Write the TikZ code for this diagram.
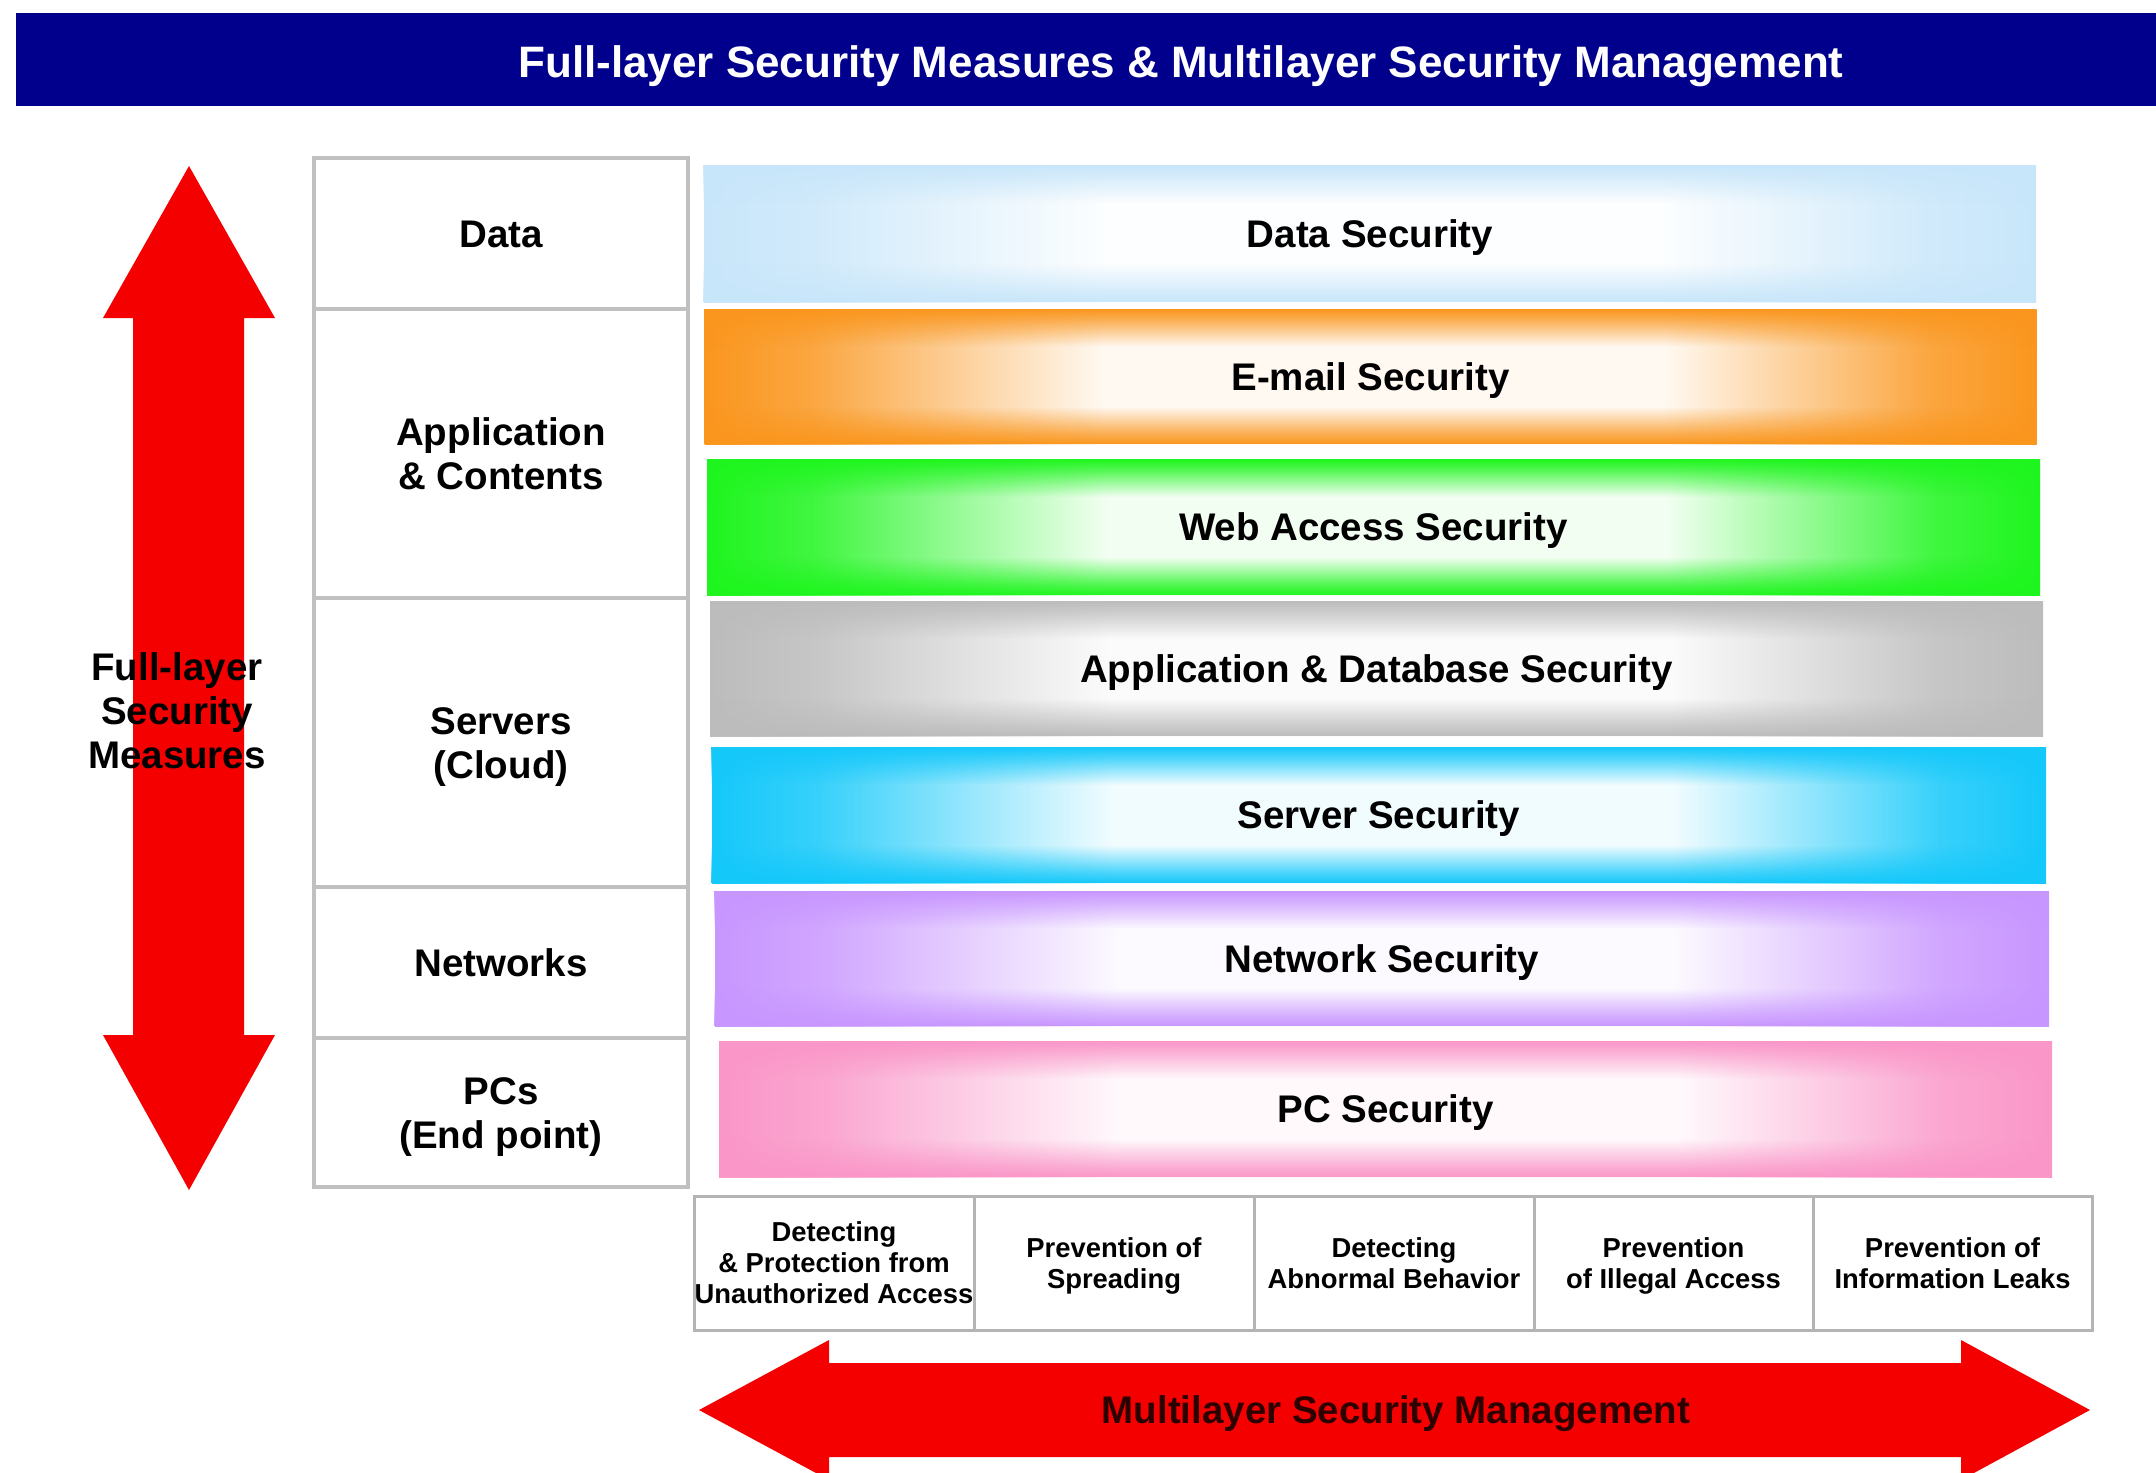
\documentclass[tikz,border=0pt]{standalone}
\usepackage{fontspec}
\setmainfont{Liberation Sans}
\usetikzlibrary{fadings}

\definecolor{titlenavy}{RGB}{0,0,140}
\definecolor{arrowred}{RGB}{245,0,0}
\definecolor{cellgray}{RGB}{192,192,192}
\definecolor{boxgray}{RGB}{180,180,180}
\definecolor{dataBlue}{RGB}{200,230,250}
\definecolor{mailOrange}{RGB}{250,150,30}
\definecolor{webGreen}{RGB}{30,245,30}
\definecolor{dbGray}{RGB}{188,188,188}
\definecolor{srvCyan}{RGB}{20,200,250}
\definecolor{netPurple}{RGB}{200,150,255}
\definecolor{pcPink}{RGB}{250,150,200}
\definecolor{mgmtText}{RGB}{45,0,0}
\colorlet{bandcol}{dataBlue}

% band fill: solid colour at the left and right ends, pale core in the middle
\pgfdeclarehorizontalshading[bandcol]{bandh}{100bp}{%
  color(0bp)=(bandcol); color(25bp)=(bandcol); color(29bp)=(bandcol!85!white);
  color(40bp)=(bandcol!6!white); color(61bp)=(bandcol!6!white);
  color(71bp)=(bandcol!85!white); color(75bp)=(bandcol); color(100bp)=(bandcol)}
% mask that keeps the band colour along the top and bottom edges only
\pgfdeclareverticalshading{bandvmask}{100bp}{%
  color(0bp)=(pgftransparent!0); color(25bp)=(pgftransparent!0);
  color(29bp)=(pgftransparent!25); color(39bp)=(pgftransparent!100);
  color(61bp)=(pgftransparent!100); color(71bp)=(pgftransparent!25);
  color(75bp)=(pgftransparent!0); color(100bp)=(pgftransparent!0)}
\pgfdeclarefading{bandv}{\pgfuseshading{bandvmask}}

\tikzset{
  bigfont/.style={font=\fontsize{38.5}{44}\selectfont\bfseries},
  smallfont/.style={font=\fontsize{27.4}{31}\selectfont\bfseries},
  % text boxes measured from cap top to last baseline, so the caps sit centred
  bigrows/.style={text height={27.6pt+(#1-1)*44pt}, text depth=0pt},
  smallrows/.style={text height={19.6pt+(#1-1)*31pt}, text depth=0pt},
  bandcolor/.code={\colorlet{bandcol}{#1}},
  band/.style={shade, shading=bandh, inner sep=0pt, bigfont, bigrows=1, text=black,
    postaction={fill=bandcol, path fading=bandv}},
  layercell/.style={draw=cellgray, line width=3.5pt, fill=white, inner sep=0pt,
    minimum width=374pt, align=center, bigfont},
  measurebox/.style={draw=boxgray, line width=3pt, fill=white, inner sep=0pt,
    minimum height=134pt, align=center, smallfont},
}

\begin{document}
\begin{tikzpicture}[x=1pt, y=-1pt]
\useasboundingbox (0,0) rectangle (2156,1473);
\fill[white] (0,0) rectangle (2156,1473);

% title bar
\fill[titlenavy] (16,13) rectangle (2156,106);
\node[font=\fontsize{44}{50}\selectfont\bfseries, text=white,
      text height=31.5pt, text depth=0pt] (title) at (1181,62)
  {Full-layer Security Measures \& Multilayer Security Management};

% vertical double arrow
\fill[arrowred] (189,166) -- (275,318) -- (244,318) -- (244,1035) -- (275,1035)
  -- (189,1190) -- (103,1035) -- (133,1035) -- (133,318) -- (103,318) -- cycle;
\node[bigfont, bigrows=3, align=center, text=black] (fullLayer) at (177,711)
  {Full-layer\\Security\\Measures};

% layer table
\node[layercell, bigrows=1, minimum height=151pt] (cData) at (501,233.5) {Data};
\node[layercell, bigrows=2, minimum height=289pt] (cApp) at (501,453.5) {Application\\\& Contents};
\node[layercell, bigrows=2, minimum height=289pt] (cSrv) at (501,742.5) {Servers\\(Cloud)};
\node[layercell, bigrows=1, minimum height=151pt] (cNet) at (501,962.5) {Networks};
\node[layercell, bigrows=2, minimum height=149pt] (cPC) at (501,1112.5) {PCs\\(End point)};

% security bands
\node[band, bandcolor=dataBlue, minimum width=1332pt, minimum height=137pt]
  (bData) at (1370,233.5) {Data Security};
\node[band, bandcolor=mailOrange, minimum width=1332pt, minimum height=135pt]
  (bMail) at (1370.5,376.5) {E-mail Security};
\node[band, bandcolor=webGreen, minimum width=1333pt, minimum height=136pt]
  (bWeb) at (1373.5,527) {Web Access Security};
\node[band, bandcolor=dbGray, minimum width=1333pt, minimum height=135pt]
  (bDb) at (1376.5,668.5) {Application \& Database Security};
\node[band, bandcolor=srvCyan, minimum width=1334pt, minimum height=136pt]
  (bSrv) at (1379,815) {Server Security};
\node[band, bandcolor=netPurple, minimum width=1334pt, minimum height=135pt]
  (bNet) at (1382,958.5) {Network Security};
\node[band, bandcolor=pcPink, minimum width=1333pt, minimum height=136pt]
  (bPC) at (1385.5,1109) {PC Security};

% management measures
\node[measurebox, smallrows=3, minimum width=280pt] (m1) at (834,1263)
  {Detecting\\\& Protection from\\Unauthorized Access};
\node[measurebox, smallrows=2, minimum width=280pt] (m2) at (1114,1263) {Prevention of\\Spreading};
\node[measurebox, smallrows=2, minimum width=280pt] (m3) at (1394,1263) {Detecting\\Abnormal Behavior};
\node[measurebox, smallrows=2, minimum width=279pt] (m4) at (1673.5,1263) {Prevention\\of Illegal Access};
\node[measurebox, smallrows=2, minimum width=279pt] (m5) at (1952.5,1263) {Prevention of\\Information Leaks};

% horizontal double arrow
\fill[arrowred] (699,1410) -- (829,1340) -- (829,1363) -- (1961,1363) -- (1961,1340)
  -- (2090,1410) -- (1961,1480) -- (1961,1457) -- (829,1457) -- (829,1480) -- cycle;
\node[bigfont, bigrows=1, text=mgmtText] (mgmt) at (1396,1410) {Multilayer Security Management};
\end{tikzpicture}
\end{document}
